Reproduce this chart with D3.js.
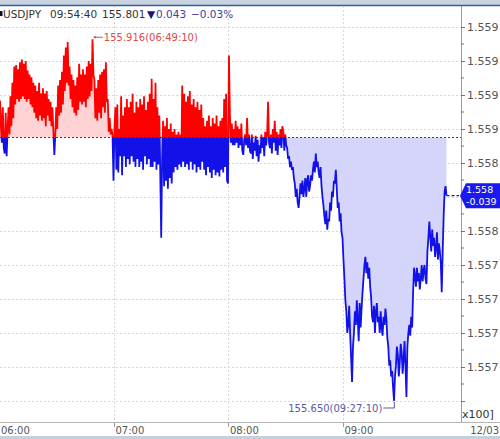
<!DOCTYPE html>
<html>
<head>
<meta charset="utf-8">
<script src="https://cdn.jsdelivr.net/npm/d3@7"></script>
<style>
  body { margin: 0; background: #fff; }
  svg { display: block; font-family: "DejaVu Sans", sans-serif; }
</style>
</head>
<body>
<div id="chart"></div>
<script>
// -------------------------------------------------------------
// USDJPY intraday tick chart (06:00 - 09:54:40), 30 s samples
// -------------------------------------------------------------

const symbol = "USDJPY";
const lastTime = "09:54:40";
const lastPrice = 155.801;
const changeText = "0.043";
const changePct = "\u22120.03%";
const prevClose = 155.844;
const startTime = "06:00:00";
const endTime = "10:00:00";
const stepSec = 30;

// prices, one every 30 seconds from 06:00:00
const prices = [
  155.835, 155.871, 155.858, 155.840, 155.866, 155.836, 155.832, 155.862, 155.830, 155.850,
  155.866, 155.846, 155.874, 155.852, 155.884, 155.858, 155.896, 155.868, 155.897, 155.872,
  155.894, 155.870, 155.899, 155.872, 155.901, 155.874, 155.898, 155.872, 155.900, 155.870,
  155.893, 155.872, 155.890, 155.868, 155.888, 155.866, 155.884, 155.862, 155.882, 155.858,
  155.878, 155.856, 155.884, 155.860, 155.876, 155.856, 155.880, 155.858, 155.876, 155.852,
  155.878, 155.860, 155.872, 155.856, 155.870, 155.852, 155.866, 155.848, 155.831, 155.846,
  155.866, 155.850, 155.882, 155.860, 155.886, 155.862, 155.892, 155.868, 155.904, 155.878,
  155.910, 155.884, 155.914, 155.882, 155.896, 155.872, 155.890, 155.866, 155.886, 155.862,
  155.882, 155.860, 155.888, 155.864, 155.898, 155.870, 155.890, 155.868, 155.894, 155.870,
  155.890, 155.866, 155.896, 155.872, 155.900, 155.874, 155.898, 155.878, 155.916, 155.890,
  155.886, 155.858, 155.880, 155.856, 155.886, 155.862, 155.890, 155.858, 155.892, 155.866,
  155.894, 155.862, 155.899, 155.870, 155.872, 155.848, 155.858, 155.846, 155.850, 155.845,
  155.812, 155.850, 155.866, 155.820, 155.868, 155.818, 155.850, 155.830, 155.874, 155.816,
  155.860, 155.830, 155.866, 155.822, 155.872, 155.828, 155.866, 155.824, 155.870, 155.830,
  155.876, 155.826, 155.862, 155.822, 155.870, 155.828, 155.866, 155.822, 155.872, 155.826,
  155.868, 155.820, 155.874, 155.830, 155.864, 155.824, 155.870, 155.828, 155.876, 155.822,
  155.887, 155.822, 155.872, 155.826, 155.884, 155.820, 155.866, 155.824, 155.860, 155.818,
  155.770, 155.830, 155.856, 155.808, 155.852, 155.812, 155.858, 155.806, 155.850, 155.814,
  155.854, 155.810, 155.848, 155.818, 155.850, 155.822, 155.846, 155.820, 155.848, 155.824,
  155.846, 155.822, 155.882, 155.826, 155.876, 155.822, 155.870, 155.824, 155.874, 155.820,
  155.878, 155.826, 155.868, 155.820, 155.872, 155.824, 155.866, 155.818, 155.870, 155.822,
  155.864, 155.820, 155.868, 155.826, 155.858, 155.820, 155.852, 155.816, 155.856, 155.822,
  155.860, 155.818, 155.852, 155.814, 155.858, 155.820, 155.854, 155.816, 155.860, 155.818,
  155.852, 155.815, 155.856, 155.820, 155.858, 155.818, 155.872, 155.822, 155.876, 155.812,
  155.810, 155.904, 155.860, 155.840, 155.854, 155.838, 155.850, 155.838, 155.856, 155.840,
  155.852, 155.836, 155.850, 155.838, 155.854, 155.834, 155.831, 155.842, 155.846, 155.838,
  155.858, 155.836, 155.846, 155.834, 155.832, 155.846, 155.828, 155.840, 155.834, 155.845,
  155.830, 155.842, 155.826, 155.838, 155.832, 155.846, 155.836, 155.844, 155.830, 155.848,
  155.838, 155.846, 155.870, 155.840, 155.836, 155.846, 155.832, 155.850, 155.840, 155.856,
  155.834, 155.848, 155.831, 155.846, 155.838, 155.850, 155.836, 155.852, 155.848, 155.834,
  155.846, 155.838, 155.836, 155.828, 155.830, 155.822, 155.826, 155.820, 155.822, 155.814,
  155.810, 155.800, 155.806, 155.796, 155.792, 155.800, 155.810, 155.802, 155.812, 155.800,
  155.806, 155.814, 155.800, 155.812, 155.816, 155.804, 155.808, 155.816, 155.812, 155.820,
  155.826, 155.818, 155.832, 155.822, 155.826, 155.818, 155.814, 155.822, 155.808, 155.800,
  155.794, 155.786, 155.780, 155.790, 155.776, 155.784, 155.782, 155.796, 155.790, 155.804,
  155.800, 155.812, 155.810, 155.820, 155.806, 155.792, 155.796, 155.782, 155.788, 155.774,
  155.770, 155.754, 155.740, 155.724, 155.716, 155.700, 155.706, 155.720, 155.700, 155.682,
  155.664, 155.690, 155.700, 155.716, 155.706, 155.724, 155.710, 155.694, 155.722, 155.704,
  155.718, 155.730, 155.740, 155.750, 155.756, 155.744, 155.752, 155.740, 155.748, 155.734,
  155.726, 155.712, 155.708, 155.720, 155.700, 155.716, 155.722, 155.708, 155.712, 155.700,
  155.716, 155.704, 155.698, 155.712, 155.706, 155.718, 155.710, 155.696, 155.690, 155.676,
  155.680, 155.668, 155.672, 155.660, 155.650, 155.668, 155.676, 155.690, 155.684, 155.668,
  155.678, 155.692, 155.686, 155.670, 155.680, 155.694, 155.676, 155.653, 155.690, 155.700,
  155.706, 155.698, 155.712, 155.704, 155.730, 155.748, 155.742, 155.734, 155.748, 155.738,
  155.744, 155.732, 155.740, 155.750, 155.738, 155.746, 155.750, 155.740, 155.736, 155.760,
  155.770, 155.782, 155.770, 155.760, 155.776, 155.764, 155.770, 155.756, 155.762, 155.774,
  155.754, 155.766, 155.760, 155.752, 155.730, 155.760, 155.786, 155.804, 155.808, 155.801
];

// right axis grid (price levels) and their labels (x100 display);
// the 155.800 label sits under the current-price tag, so it stays blank
const gridPrices = [155.925, 155.900, 155.875, 155.850, 155.825, 155.800,
                    155.775, 155.750, 155.725, 155.700, 155.675, 155.650];
const gridLabels = ["1.559", "1.559", "1.559", "1.559", "1.558", "",
                    "1.558", "1.557", "1.557", "1.557", "1.557", ""];
const hourTicks = ["06:00", "07:00", "08:00", "09:00"];
const dateLabel = "12/03";
const unitLabel = "x100]";
const boxLabels = ["1.558", "-0.039"];

const highMark = { price: 155.916, time: "06:49:10" };
const lowMark = { price: 155.650, time: "09:27:10" };

// -------------------------------------------------------------
const W = 500, H = 439;
const plotRight = 461, plotTop = 6, plotBottom = 422;

const parseT = d3.timeParse("%H:%M:%S");
const t0 = parseT(startTime);

const data = prices.map((p, i) => ({
  t: new Date(t0.getTime() + i * stepSec * 1000),
  p: p
}));

const x = d3.scaleTime()
  .domain([t0, parseT(endTime)])
  .range([-1, 457]);

const y = d3.scaleLinear()
  .domain([155.925, 155.650])
  .range([27, 401]);

const svg = d3.select("#chart")
  .append("svg")
  .attr("width", W)
  .attr("height", H);

// top toolbar strip
svg.append("rect").attr("x", 0).attr("y", 0).attr("width", W).attr("height", 5)
  .attr("fill", "#c9d3df");
svg.append("line").attr("x1", 0).attr("x2", W).attr("y1", 5.5).attr("y2", 5.5)
  .attr("stroke", "#2f5ea6").attr("stroke-width", 1.5);

// bottom strip
svg.append("rect").attr("x", 0).attr("y", 436).attr("width", W).attr("height", 3)
  .attr("fill", "#c3d0de");

const defs = svg.append("defs");
const baseY = y(prevClose);

defs.append("clipPath").attr("id", "clip-plot")
  .append("rect").attr("x", 0).attr("y", plotTop).attr("width", plotRight).attr("height", plotBottom - plotTop);
defs.append("clipPath").attr("id", "clip-up")
  .append("rect").attr("x", 0).attr("y", plotTop).attr("width", plotRight).attr("height", baseY - plotTop);
defs.append("clipPath").attr("id", "clip-down")
  .append("rect").attr("x", 0).attr("y", baseY).attr("width", plotRight).attr("height", plotBottom - baseY);

const plot = svg.append("g").attr("clip-path", "url(#clip-plot)");

// horizontal grid
plot.selectAll("line.hgrid")
  .data(gridPrices)
  .join("line")
  .attr("class", "hgrid")
  .attr("x1", 0).attr("x2", plotRight)
  .attr("y1", d => Math.round(y(d)) + 0.5).attr("y2", d => Math.round(y(d)) + 0.5)
  .attr("stroke", "#d6d6d6").attr("stroke-dasharray", "2,2");

// vertical grid at hours
plot.selectAll("line.vgrid")
  .data(hourTicks.slice(1))
  .join("line")
  .attr("class", "vgrid")
  .attr("x1", d => Math.round(x(parseT(d + ":00"))) + 0.5)
  .attr("x2", d => Math.round(x(parseT(d + ":00"))) + 0.5)
  .attr("y1", plotTop).attr("y2", plotBottom)
  .attr("stroke", "#d6d6d6").attr("stroke-dasharray", "2,2");

// area between price and previous close
const area = d3.area()
  .x(d => x(d.t))
  .y0(baseY)
  .y1(d => y(d.p));

const line = d3.line()
  .x(d => x(d.t))
  .y(d => y(d.p));

plot.append("path").datum(data)
  .attr("clip-path", "url(#clip-up)")
  .attr("d", area).attr("fill", "#ffd3d3");
plot.append("path").datum(data)
  .attr("clip-path", "url(#clip-down)")
  .attr("d", area).attr("fill", "#d5d5fb");

// previous close reference
plot.append("line")
  .attr("x1", 0).attr("x2", plotRight)
  .attr("y1", Math.round(baseY) + 0.5).attr("y2", Math.round(baseY) + 0.5)
  .attr("stroke", "#444").attr("stroke-dasharray", "2,2");

plot.append("path").datum(data)
  .attr("clip-path", "url(#clip-up)")
  .attr("d", line).attr("fill", "none")
  .attr("stroke", "#ff0000").attr("stroke-width", 1.8);
plot.append("path").datum(data)
  .attr("clip-path", "url(#clip-down)")
  .attr("d", line).attr("fill", "none")
  .attr("stroke", "#1212e8").attr("stroke-width", 1.8);

// current price dashed stub
const last = data[data.length - 1];
svg.append("line")
  .attr("x1", x(last.t)).attr("x2", 459)
  .attr("y1", y(lastPrice)).attr("y2", y(lastPrice))
  .attr("stroke", "#1212e8").attr("stroke-width", 1.3)
  .attr("stroke-dasharray", "3,2");

// high / low annotations
const hx = x(parseT(highMark.time)), hy = y(highMark.price);
svg.append("path")
  .attr("d", `M${hx + 1},${hy - 2} L${hx + 3},${hy - 3} M${hx + 1},${hy - 2} L${hx + 3},${hy - 1} M${hx + 1},${hy - 2} H${hx + 10}`)
  .attr("stroke", "#e04848").attr("fill", "none");
svg.append("text")
  .attr("x", hx + 11).attr("y", hy - 2)
  .attr("dy", "0.35em")
  .attr("font-size", 10)
  .attr("fill", "#e04848")
  .text(`${highMark.price.toFixed(3)}(${highMark.time})`);

const lx = x(parseT(lowMark.time)), ly = y(lowMark.price);
svg.append("path")
  .attr("d", `M${lx},${ly + 1} V${ly + 7} H${lx - 11}`)
  .attr("stroke", "#5a5aa8").attr("fill", "none");
svg.append("text")
  .attr("x", lx - 12).attr("y", ly + 7)
  .attr("dy", "0.35em")
  .attr("text-anchor", "end")
  .attr("font-size", 10)
  .attr("fill", "#5a5aa8")
  .text(`${lowMark.price.toFixed(3)}(${lowMark.time})`);

// frame lines
svg.append("line").attr("x1", plotRight + 0.5).attr("x2", plotRight + 0.5)
  .attr("y1", plotTop).attr("y2", plotBottom)
  .attr("stroke", "#9a9a9a");
svg.append("line").attr("x1", 0).attr("x2", W)
  .attr("y1", plotBottom + 0.5).attr("y2", plotBottom + 0.5)
  .attr("stroke", "#b5b5b5");

// right axis
const yAxis = d3.axisRight(y)
  .tickValues(gridPrices)
  .tickSize(4)
  .tickPadding(2)
  .tickFormat((d, i) => gridLabels[i]);

const gy = svg.append("g")
  .attr("transform", `translate(${plotRight},0)`)
  .call(yAxis);
gy.select(".domain").remove();
gy.selectAll(".tick line").attr("stroke", "#777");
gy.selectAll(".tick text")
  .attr("font-family", "DejaVu Sans")
  .attr("font-size", 11)
  .attr("fill", "#555");

// minor ticks
svg.selectAll("line.minor")
  .data(d3.pairs(gridPrices).map(([a, b]) => (a + b) / 2))
  .join("line")
  .attr("class", "minor")
  .attr("x1", plotRight).attr("x2", plotRight + 3)
  .attr("y1", d => y(d)).attr("y2", d => y(d))
  .attr("stroke", "#777");

svg.append("text")
  .attr("x", plotRight + 1).attr("y", 414)
  .attr("dy", "0.35em")
  .attr("font-size", 11).attr("fill", "#333")
  .text(unitLabel);

// bottom axis labels
const gx = svg.append("g");
gx.selectAll("line")
  .data(hourTicks)
  .join("line")
  .attr("x1", d => Math.round(x(parseT(d + ":00"))) + 0.5)
  .attr("x2", d => Math.round(x(parseT(d + ":00"))) + 0.5)
  .attr("y1", plotBottom + 1).attr("y2", plotBottom + 5)
  .attr("stroke", "#999");
gx.selectAll("text")
  .data(hourTicks)
  .join("text")
  .attr("x", d => Math.max(0, x(parseT(d + ":00")) + 2))
  .attr("y", 430)
  .attr("dy", "0.35em")
  .attr("font-size", 10)
  .attr("fill", "#555")
  .text(d => d);

svg.append("text")
  .attr("x", 499).attr("y", 430)
  .attr("dy", "0.35em")
  .attr("text-anchor", "end")
  .attr("font-size", 10)
  .attr("fill", "#555")
  .text(dateLabel);

// current price tag
const py = y(lastPrice);
svg.append("path")
  .attr("d", `M${plotRight - 1},${py} L${plotRight + 5},${py - 12.5} H${W} V${py + 12.5} H${plotRight + 5} Z`)
  .attr("fill", "#1a1aee");
svg.selectAll("text.tag")
  .data(boxLabels)
  .join("text")
  .attr("class", "tag")
  .attr("x", plotRight + 5)
  .attr("y", (d, i) => py - 6 + i * 12)
  .attr("dy", "0.35em")
  .attr("font-size", 9.5)
  .attr("fill", "#fff")
  .text(d => d);

// header
const header = svg.append("g").attr("font-size", 10.5);
header.append("rect").attr("x", 0).attr("y", 11).attr("width", 2.5).attr("height", 5).attr("fill", "#111");
header.append("text").attr("x", 3).attr("y", 18).attr("fill", "#333").text(symbol);
header.append("text").attr("x", 50).attr("y", 18).attr("fill", "#333").text(lastTime);
header.append("text").attr("x", 102).attr("y", 18).attr("fill", "#333").text(lastPrice.toFixed(3));
header.append("text").attr("x", 147).attr("y", 18).attr("fill", "#14147a").text("\u25BC");
header.append("text").attr("x", 156).attr("y", 18).attr("fill", "#4040a8").text(changeText);
header.append("text").attr("x", 191).attr("y", 18).attr("fill", "#4040a8").text(changePct);
</script>
</body>
</html>
